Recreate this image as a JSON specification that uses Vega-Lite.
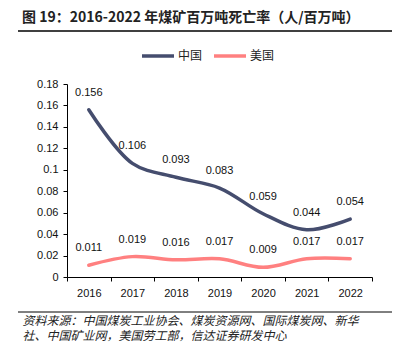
{
  "$schema": "https://vega.github.io/schema/vega-lite/v6.json",
  "width": 394,
  "height": 348,
  "autosize": {"type": "none"},
  "padding": 0,
  "background": "white",
  "config": {
    "view": {"stroke": null},
    "font": "Liberation Sans",
    "axisY": {"labelOverlap": false, "labelBound": false}
  },
  "title": {
    "text": "图 19：2016-2022 年煤矿百万吨死亡率（人/百万吨）",
    "font": "Noto Sans CJK SC",
    "fontSize": 14,
    "fontWeight": "bold",
    "color": "#222222",
    "anchor": "start",
    "frame": "group",
    "dx": 22,
    "dy": 31,
    "offset": 6
  },
  "data": {
    "values": [
      {"year": "2016", "country": "中国", "value": 0.156},
      {"year": "2017", "country": "中国", "value": 0.106},
      {"year": "2018", "country": "中国", "value": 0.093},
      {"year": "2019", "country": "中国", "value": 0.083},
      {"year": "2020", "country": "中国", "value": 0.059},
      {"year": "2021", "country": "中国", "value": 0.044},
      {"year": "2022", "country": "中国", "value": 0.054},
      {"year": "2016", "country": "美国", "value": 0.011},
      {"year": "2017", "country": "美国", "value": 0.019},
      {"year": "2018", "country": "美国", "value": 0.016},
      {"year": "2019", "country": "美国", "value": 0.017},
      {"year": "2020", "country": "美国", "value": 0.009},
      {"year": "2021", "country": "美国", "value": 0.017},
      {"year": "2022", "country": "美国", "value": 0.017}
    ]
  },
  "encoding": {
    "x": {
      "field": "year", "type": "ordinal",
      "scale": {"type": "band", "paddingInner": 0, "paddingOuter": 0, "range": [67, 372]},
      "axis": {
        "offset": -71,
        "labelAngle": 0, "labelFontSize": 11, "labelColor": "#111111", "labelPadding": 6,
        "domainColor": "#000000", "tickColor": "#000000", "tickSize": 4, "tickBand": "extent",
        "title": ["资料来源：中国煤炭工业协会、煤炭资源网、国际煤炭网、新华", "社、中国矿业网，美国劳工部，信达证券研发中心"],
        "titleFont": "Noto Sans CJK SC", "titleFontSize": 12, "titleFontWeight": "normal", "titleFontStyle": "italic",
        "titleColor": "#222222", "titleAnchor": "start", "titleAlign": "left", "titleBaseline": "top",
        "titleX": 22, "titleY": 38, "titleLineHeight": 15
      }
    },
    "y": {
      "field": "value", "type": "quantitative",
      "scale": {"domain": [0, 0.18], "range": [277, 84]},
      "axis": {
        "offset": -67,
        "values": [0, 0.02, 0.04, 0.06, 0.08, 0.1, 0.12, 0.14, 0.16, 0.18],
        "format": ".2~f", "grid": false, "title": null, "labelOverlap": false,
        "labelFontSize": 11, "labelColor": "#111111", "labelPadding": 5,
        "domainColor": "#000000", "tickColor": "#000000", "tickSize": 4
      }
    }
  },
  "layer": [
    {
      "mark": {"type": "line", "interpolate": "catmull-rom", "strokeWidth": 3.5, "strokeCap": "round"},
      "encoding": {
        "color": {
          "field": "country", "type": "nominal",
          "scale": {"domain": ["中国", "美国"], "range": ["#454D6E", "#FF8080"]},
          "legend": {
            "orient": "none", "direction": "horizontal", "legendX": 140, "legendY": 38,
            "title": null, "symbolType": "stroke", "symbolSize": 1024, "symbolStrokeWidth": 3.5,
            "labelFont": "Noto Sans CJK SC", "labelFontSize": 12, "labelColor": "#222222",
            "labelOffset": 2, "columnPadding": 4
          }
        }
      }
    },
    {
      "mark": {"type": "text", "dy": -17, "fontSize": 11, "color": "#111111"},
      "encoding": {
        "text": {"field": "value", "type": "quantitative", "format": ".3f"}
      }
    },
    {
      "data": {"values": [{"line": "top"}]},
      "mark": {"type": "rule", "stroke": "#000000", "strokeWidth": 1.5},
      "encoding": {"x": {"value": 18}, "x2": {"value": 392}, "y": {"value": 31}}
    },
    {
      "data": {"values": [{"line": "bottom"}]},
      "mark": {"type": "rule", "stroke": "#000000", "strokeWidth": 1},
      "encoding": {"x": {"value": 18}, "x2": {"value": 392}, "y": {"value": 312}}
    }
  ]
}
